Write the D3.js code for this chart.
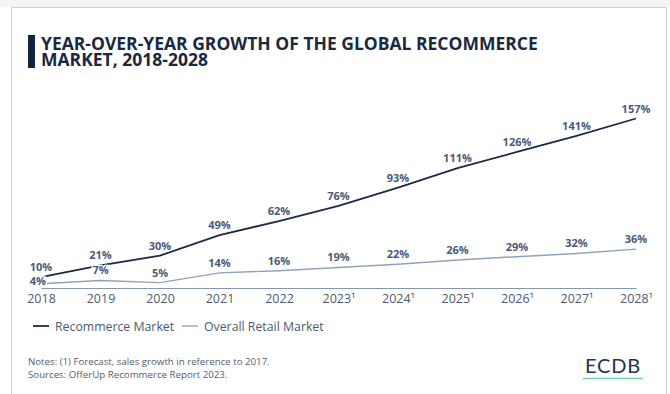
<!DOCTYPE html>
<html><head><meta charset="utf-8">
<script src="https://cdn.jsdelivr.net/npm/d3@7"></script>
<style>
html,body{margin:0;padding:0;background:#fff;}
svg{display:block;font-family:"Open Sans",sans-serif;}
</style></head>
<body>
<svg id="c" width="670" height="394"></svg>
<script>
const years = ["2018","2019","2020","2021","2022","2023","2024","2025","2026","2027","2028"];
const tickLabels = ["2018","2019","2020","2021","2022","2023¹","2024¹","2025¹","2026¹","2027¹","2028¹"];
const recommerce = [10,21,30,49,62,76,93,111,126,141,157];
const retail = [4,7,5,14,16,19,22,26,29,32,36];
const seriesNames = ["Recommerce Market","Overall Retail Market"];
const seriesColors = ["#1b2a45","#8da2bd"];

const svg = d3.select("#c");
// top band and card
svg.append("rect").attr("x",0).attr("y",0).attr("width",670).attr("height",7).attr("fill","#f3f4f5");
svg.append("rect").attr("x",11.5).attr("y",7.5).attr("width",655).attr("height",400)
  .attr("fill","#fff").attr("stroke","#c9cfd7").attr("stroke-width",1);

// title
svg.append("rect").attr("x",28).attr("y",35).attr("width",7).attr("height",33).attr("fill","#14233d");
svg.append("text").attr("x",41).attr("y",49.5).attr("fill","#1a2940")
  .style("font-size","17.5px").style("font-weight","700")
  .text("YEAR-OVER-YEAR GROWTH OF THE GLOBAL RECOMMERCE");
svg.append("text").attr("x",41).attr("y",65.5).attr("fill","#1a2940")
  .style("font-size","17.5px").style("font-weight","700")
  .text("MARKET, 2018-2028");

const x = d3.scalePoint().domain(years).range([41,636]);
const y = d3.scaleLinear().domain([0,157]).range([288,118.5]);

// axis
const xAxis = d3.axisBottom(x).tickSize(0).tickPadding(0).tickFormat((d,i)=>tickLabels[i]);
const ag = svg.append("g").attr("transform","translate(0,288)").call(xAxis);
ag.select(".domain").attr("stroke","#8797ab").attr("stroke-width",1.2);
ag.selectAll("text").attr("fill","#4d5b70").style("font-size","12.5px")
  .style("font-family","'Open Sans',sans-serif").attr("dy","0").attr("y",15);

const line = d3.line().x((d,i)=>x(years[i])).y(d=>y(d));
[recommerce, retail].forEach((s,k)=>{
  svg.append("path").datum(s).attr("d",line).attr("fill","none")
    .attr("stroke",seriesColors[k]).attr("stroke-width",k===0?1.8:1.4);
});

// labels
function addLabels(s, k){
  svg.append("g").selectAll("text").data(s).join("text")
    .attr("x",(d,i)=> (k===1 && i===0) ? x(years[i])+5 : x(years[i]))
    .attr("y",(d,i)=> (k===1 && i===0) ? y(d)+1.5 : y(d)-6)
    .attr("text-anchor",(d,i)=> (k===1 && i===0) ? "end" : "middle")
    .attr("fill","#4a5a76").style("font-size","11px").style("font-weight","700")
    .attr("stroke","#fff").attr("stroke-width",2.5).attr("paint-order","stroke")
    .text(d=>d+"%");
}
addLabels(recommerce,0);
addLabels(retail,1);

// legend
const lg = svg.append("g");
const legX = [33, 182];
seriesNames.forEach((n,k)=>{
  lg.append("line").attr("x1",legX[k]).attr("x2",legX[k]+16).attr("y1",326).attr("y2",326)
    .attr("stroke",seriesColors[k]).attr("stroke-width",k===0?1.8:1.4);
  lg.append("text").attr("x",legX[k]+22).attr("y",330.5).attr("fill","#4d5a6c")
    .style("font-size","12.3px").text(n);
});

// notes
const notes = svg.append("text").attr("fill","#555e6a").style("font-size","9.7px");
notes.append("tspan").attr("x",28).attr("y",365).text("Notes: (1) Forecast, sales growth in reference to 2017.");
notes.append("tspan").attr("x",28).attr("y",378).text("Sources: OfferUp Recommerce Report 2023.");

// logo
svg.append("text").attr("x",613).attr("y",373).attr("text-anchor","middle").attr("fill","#243450")
  .style("font-size","20px").style("font-family","'Lato',sans-serif").style("letter-spacing","0.8px").text("ECDB");
svg.append("line").attr("x1",583).attr("x2",643).attr("y1",378.5).attr("y2",378.5).attr("stroke","#6fcfb3").attr("stroke-width",1.5);
</script>
</body></html>
